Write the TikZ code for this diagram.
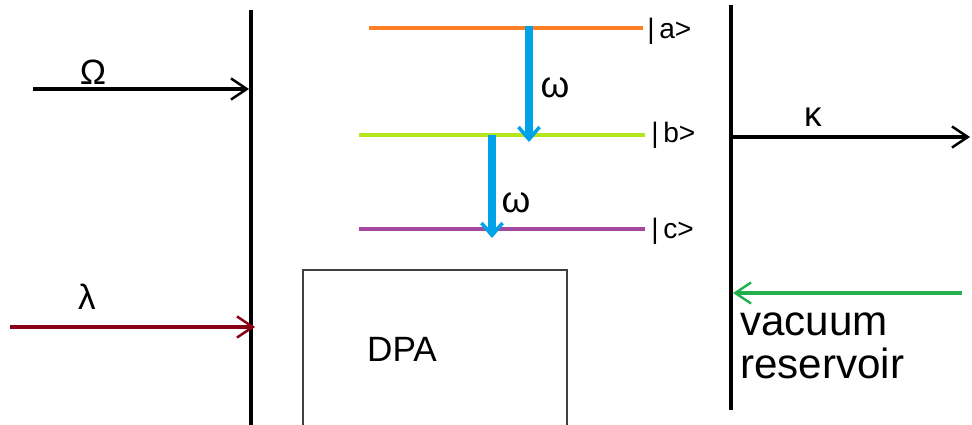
\documentclass[tikz,border=0pt]{standalone}
\usepackage{fontspec}
\setmainfont{Liberation Sans}
\usetikzlibrary{arrows.meta}

\definecolor{lvlorange}{RGB}{255,127,39}
\definecolor{lvllime}{RGB}{181,230,29}
\definecolor{lvlpurple}{RGB}{163,73,164}
\definecolor{decayblue}{RGB}{0,162,232}
\definecolor{pumpred}{RGB}{136,0,21}
\definecolor{vacgreen}{RGB}{34,177,76}

\tikzset{
    mirror/.style={line width=2.8pt},
    beam/.style={line width=2.1pt, -{Straight Barb[length=9pt,width=12pt,line width=1.4pt]}},
    level/.style={line width=2pt},
    decay/.style={decayblue, line width=4pt, -{Straight Barb[length=7pt,width=12pt,line width=2pt]}},
    greek/.style={font=\fontsize{20}{22}\selectfont, inner sep=0pt},
    ket/.style={font=\fontsize{16}{18}\selectfont, anchor=west, inner sep=0pt},
}

\begin{document}
\begin{tikzpicture}[x=0.02cm, y=-0.02cm]
    \useasboundingbox (0,0) rectangle (972,425);

    % cavity mirrors
    \coordinate (lmtop) at (251,10);
    \coordinate (lmbot) at (251,425);
    \coordinate (rmtop) at (731,5);
    \coordinate (rmbot) at (731,410);
    \draw[mirror] (lmtop) -- (lmbot);
    \draw[mirror] (rmtop) -- (rmbot);

    % driving fields
    \coordinate (omegain) at (33,89);
    \coordinate (omegahit) at (249,89);
    \coordinate (lambdain) at (10,327);
    \coordinate (lambdahit) at (255,327);
    \draw[beam] (omegain) -- (omegahit);
    \draw[beam, pumpred] (lambdain) -- (lambdahit);
    \node[greek] (omegalbl) at (93,72) {Ω};
    \node[greek] (lambdalbl) at (87,297) {λ};

    % cavity loss and reservoir
    \coordinate (kappaout) at (970,137);
    \coordinate (kappaend) at (731,137);
    \draw[beam] (kappaend) -- (kappaout);
    \node[greek] (kappalbl) at (813,117) {κ};
    \coordinate (vacin) at (962,293);
    \coordinate (vachit) at (733,293);
    \draw[beam, vacgreen, line width=1.9pt] (vacin) -- (vachit);
    \node[anchor=base west, align=left, inner sep=0pt,
          font=\fontsize{24}{24.4}\selectfont] (vaclbl) at (740,378) {vacuum\\reservoir};

    % three-level atom
    \coordinate (aleft) at (369,28);
    \coordinate (aright) at (643,28);
    \coordinate (bleft) at (359,135);
    \coordinate (bright) at (645,135);
    \coordinate (cleft) at (359,229);
    \coordinate (cright) at (645,229);
    \draw[level, lvlorange] (aleft) -- (aright);
    \draw[level, lvllime] (bleft) -- (bright);
    \draw[level, lvlpurple] (cleft) -- (cright);
    \node[ket] (keta) at (647,31) {|\,a>};
    \node[ket] (ketb) at (651,135) {|\,b>};
    \node[ket] (ketc) at (651,231) {|\,c>};

    \coordinate (upper) at (529,26);
    \coordinate (middle) at (529,142);
    \coordinate (mid2) at (492,135);
    \coordinate (lower) at (492,238);
    \draw[decay] (upper) -- (middle);
    \draw[decay] (mid2) -- (lower);
    \node[greek, font=\fontsize{21}{24}\selectfont] (omega1) at (555,88) {ω};
    \node[greek, font=\fontsize{21}{24}\selectfont] (omega2) at (516,203) {ω};

    % parametric amplifier
    \draw[line width=0.9pt, black!75] (303,428) -- (303,270) -- (567,270) -- (567,428);
    \node[font=\fontsize{20}{24}\selectfont, inner sep=0pt] (dpa) at (402,349) {DPA};
\end{tikzpicture}
\end{document}
